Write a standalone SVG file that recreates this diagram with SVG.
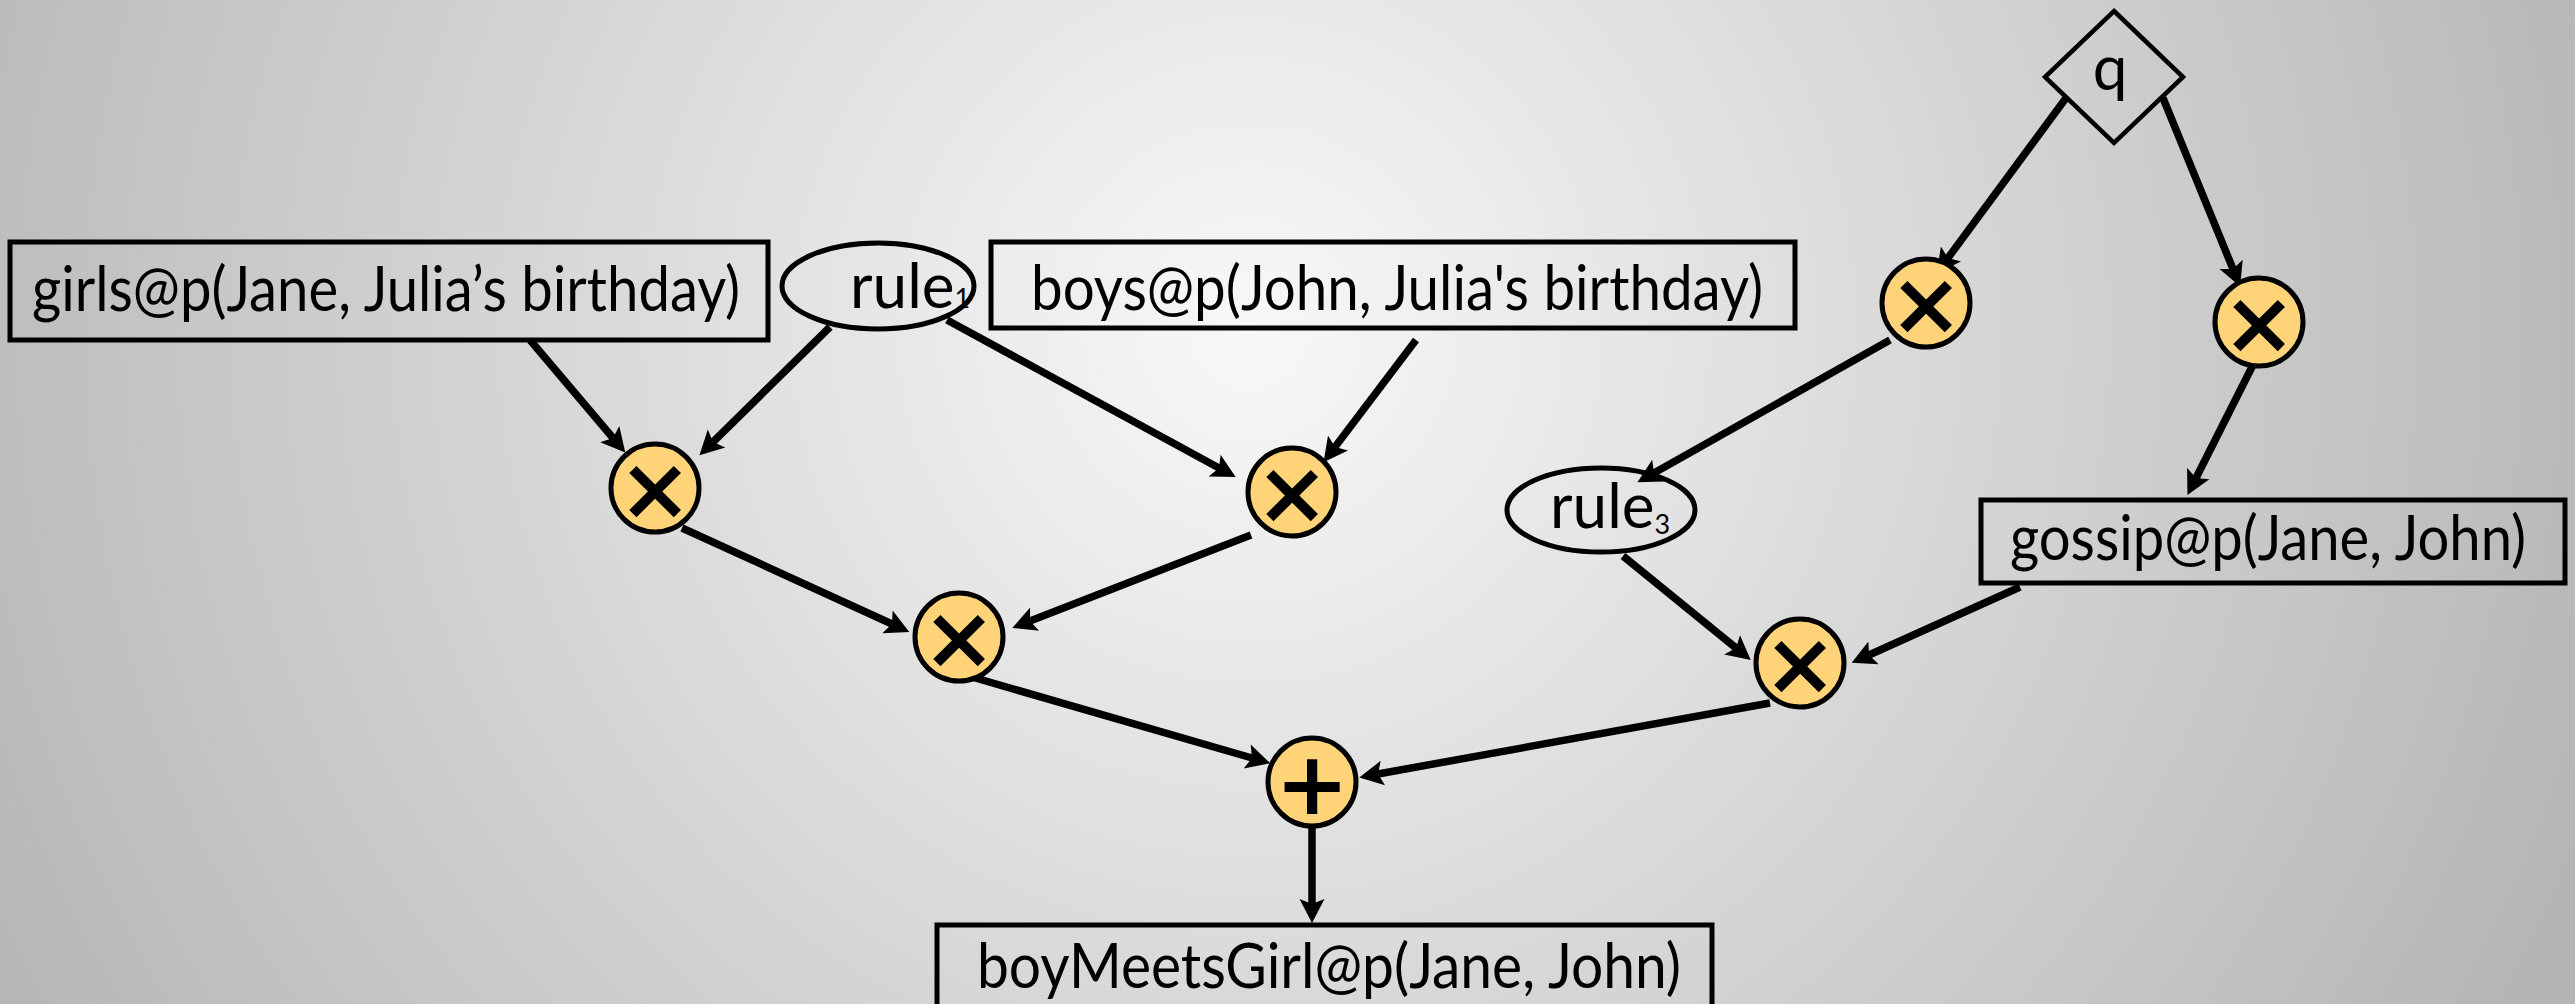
<svg xmlns="http://www.w3.org/2000/svg" width="2575" height="1004" viewBox="0 0 2575 1004">
<defs>
<radialGradient id="bg" gradientUnits="userSpaceOnUse" cx="1250" cy="330" r="1450">
<stop offset="0" stop-color="#f8f8f8"/>
<stop offset="1" stop-color="#b4b4b4"/>
</radialGradient>
<marker id="ah" markerUnits="userSpaceOnUse" viewBox="0 -14 26 28" markerWidth="26" markerHeight="28" refX="5" refY="0" orient="auto">
<path d="M0,-12.5 L24,0 L0,12.5 L5,0 Z" fill="#000"/>
</marker>
<style>
.box{fill:none;stroke:#000;stroke-width:5}
.ell{fill:none;stroke:#000;stroke-width:5}
.op{fill:#ffd479;stroke:#000;stroke-width:5}
.lbl{font-family:Lato,"Liberation Sans",sans-serif;font-size:62px;fill:#000}
.sym{font-family:"DejaVu Sans",sans-serif;font-weight:bold;font-size:88px;fill:#000;text-anchor:middle}
.edge{stroke:#000;stroke-width:7.5;fill:none;marker-end:url(#ah)}
</style>
</defs>
<rect x="0" y="0" width="2575" height="1004" fill="url(#bg)"/>

<g id="connectors">
<line class="edge" x1="530" y1="340" x2="613" y2="438"/>
<line class="edge" x1="830" y1="327" x2="713" y2="442"/>
<line class="edge" x1="947" y1="320" x2="1219" y2="468"/>
<line class="edge" x1="1416" y1="340" x2="1335" y2="447"/>
<line class="edge" x1="682" y1="528" x2="892" y2="624"/>
<line class="edge" x1="1251" y1="535" x2="1030" y2="621"/>
<line class="edge" x1="972" y1="677" x2="1252" y2="758"/>
<line class="edge" x1="1770" y1="703" x2="1378" y2="774"/>
<line class="edge" x1="2066" y1="98" x2="1948" y2="258"/>
<line class="edge" x1="2163" y1="98" x2="2233" y2="269"/>
<line class="edge" x1="1890" y1="340" x2="1654" y2="473"/>
<line class="edge" x1="2257" y1="357" x2="2196" y2="478"/>
<line class="edge" x1="1623" y1="556" x2="1736" y2="648"/>
<line class="edge" x1="2020" y1="587" x2="1869" y2="655"/>
<line class="edge" x1="1312" y1="820" x2="1312" y2="904"/>
</g>

<g id="girls">
<rect class="box" x="10" y="242" width="758" height="98"/>
<text class="lbl" x="32" y="311" textLength="708" lengthAdjust="spacingAndGlyphs">girls@p(Jane, Julia’s birthday)</text>
</g>
<g id="rule1">
<ellipse class="ell" cx="878" cy="286" rx="96" ry="43"/>
<text class="lbl" x="850" y="308" font-size="55">rule<tspan font-size="27">1</tspan></text>
</g>
<g id="boys">
<rect class="box" x="991" y="242" width="804" height="86"/>
<text class="lbl" x="1031" y="310" textLength="732" lengthAdjust="spacingAndGlyphs">boys@p(John, Julia's birthday)</text>
</g>
<g id="q">
<polygon points="2114,11 2183,77 2114,143 2045,77" fill="none" stroke="#000" stroke-width="4.5"/>
<text class="lbl" x="2110" y="90" font-size="74" text-anchor="middle">q</text>
</g>
<g id="mulTL">
<circle class="op" cx="1926" cy="303" r="44"/>
<text class="sym" x="1926" y="334">×</text>
</g>
<g id="mulTR">
<circle class="op" cx="2259" cy="322" r="44"/>
<text class="sym" x="2259" y="353">×</text>
</g>
<g id="mul1">
<circle class="op" cx="655" cy="488" r="44"/>
<text class="sym" x="655" y="519">×</text>
</g>
<g id="mul2">
<circle class="op" cx="1292" cy="492" r="44"/>
<text class="sym" x="1292" y="523">×</text>
</g>
<g id="mul3">
<circle class="op" cx="959" cy="637" r="44"/>
<text class="sym" x="959" y="668">×</text>
</g>
<g id="mulM">
<circle class="op" cx="1800" cy="663" r="44"/>
<text class="sym" x="1800" y="694">×</text>
</g>
<g id="plus">
<circle class="op" cx="1312" cy="782" r="44"/>
<text class="sym" x="1312" y="814">+</text>
</g>
<g id="rule3">
<ellipse class="ell" cx="1601" cy="510" rx="94" ry="42"/>
<text class="lbl" x="1550" y="528" font-size="53">rule<tspan font-size="27" dy="6">3</tspan></text>
</g>
<g id="gossip">
<rect class="box" x="1981" y="500" width="584" height="83"/>
<text class="lbl" x="2010" y="560" textLength="516" lengthAdjust="spacingAndGlyphs">gossip@p(Jane, John)</text>
</g>
<g id="boyMeetsGirl">
<rect class="box" x="937" y="925" width="775" height="110"/>
<text class="lbl" x="977" y="988" textLength="704" lengthAdjust="spacingAndGlyphs">boyMeetsGirl@p(Jane, John)</text>
</g>
</svg>
